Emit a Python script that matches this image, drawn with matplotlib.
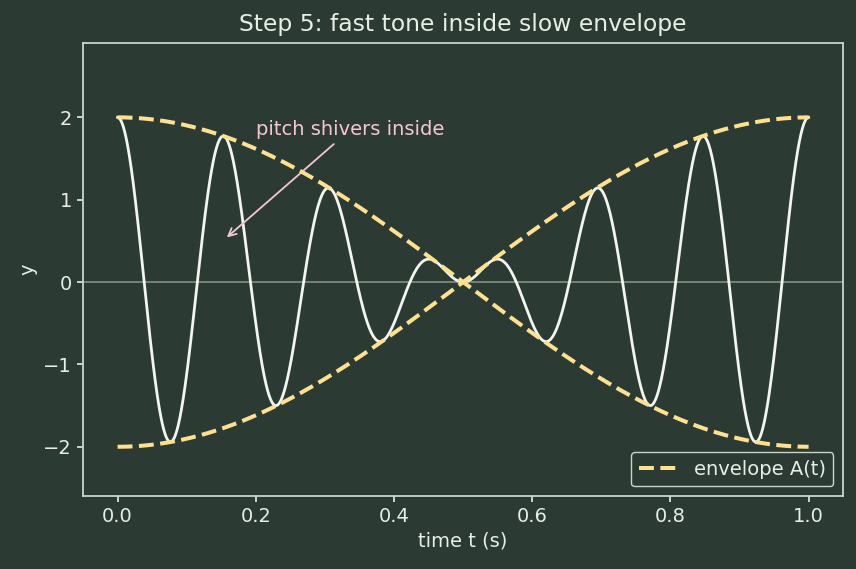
import numpy as np
import matplotlib
matplotlib.use("Agg")
import matplotlib.pyplot as plt

# signal parameters
AMPLITUDE = 2.0          # peak of envelope
ENVELOPE_FREQ = 0.5      # Hz, slow envelope A(t) = 2 cos(2*pi*0.5*t)
TONE_FREQ = 6.5          # Hz, fast tone
T_START, T_END = 0.0, 1.0
N_SAMPLES = 2000

X_TICKS = [0.0, 0.2, 0.4, 0.6, 0.8, 1.0]
Y_TICKS = [-2, -1, 0, 1, 2]

BG = "#2b3b33"
FG = "#e6eee6"
SPINE = "#c9d6cc"
ENV_COLOR = "#ffe08f"
SIG_COLOR = "#f2f6ee"
ZERO_COLOR = "#7d9183"
NOTE_COLOR = "#f5c6d6"

t = np.linspace(T_START, T_END, N_SAMPLES)
envelope = AMPLITUDE * np.cos(2 * np.pi * ENVELOPE_FREQ * t)
signal = envelope * np.cos(2 * np.pi * TONE_FREQ * t)

fig, ax = plt.subplots(figsize=(8.56, 5.69), dpi=100)
fig.patch.set_facecolor(BG)
ax.set_facecolor(BG)
fig.subplots_adjust(left=0.097, right=0.985, top=0.924, bottom=0.128)

ax.axhline(0, color=ZERO_COLOR, lw=1.2, zorder=1)
ax.plot(t, signal, color=SIG_COLOR, lw=2.0, zorder=3)
ax.plot(t, envelope, color=ENV_COLOR, lw=2.9, ls="--", zorder=4,
        label="envelope A(t)")
ax.plot(t, -envelope, color=ENV_COLOR, lw=2.9, ls="--", zorder=4)

ax.annotate("pitch shivers inside", xy=(0.155, 0.52), xytext=(0.2, 1.78),
            color=NOTE_COLOR, fontsize=14,
            arrowprops=dict(arrowstyle="->", color=NOTE_COLOR, lw=1.3))

ax.set_xlim(-0.05, 1.05)
ax.set_ylim(-2.6, 2.9)
ax.set_xticks(X_TICKS)
ax.set_yticks(Y_TICKS)
ax.set_xlabel("time t (s)", color=FG, fontsize=14)
ax.set_ylabel("y", color=FG, fontsize=14)
ax.set_title("Step 5: fast tone inside slow envelope", color=FG, fontsize=16.9,
             pad=9)

ax.tick_params(colors=FG, labelsize=14, length=4.5, width=1.2)
for s in ax.spines.values():
    s.set_color(SPINE)
    s.set_linewidth(1.3)

leg = ax.legend(loc="lower right", fontsize=14, facecolor=BG, edgecolor=SPINE,
                framealpha=1.0)
for txt in leg.get_texts():
    txt.set_color(FG)

fig.savefig("out.png", dpi=100, facecolor=BG)
